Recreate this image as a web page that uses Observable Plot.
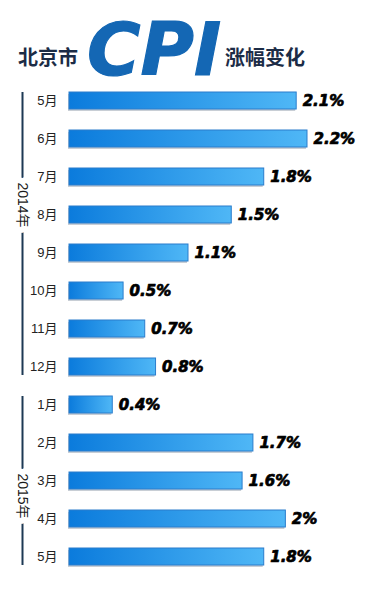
<!DOCTYPE html>
<html>
<head>
<meta charset="utf-8">
<script src="https://cdn.jsdelivr.net/npm/d3@7"></script>
<script src="https://cdn.jsdelivr.net/npm/@observablehq/plot@0.6"></script>
<style>
  html, body { margin: 0; padding: 0; background: #fff; }
  #wrap { width: 372px; }
  #title { position: relative; width: 372px; height: 85px; }
  #title span { position: absolute; line-height: 1; white-space: nowrap; }
  .cn { font-family: "Noto Sans CJK SC", sans-serif; font-weight: 700; font-size: 20px; color: #1c2c46; top: 47px; }
  .cpi { font-family: "DejaVu Sans", sans-serif; font-weight: bold; font-style: italic; font-size: 73px; color: #1467b4; left: 87px; top: 13px; letter-spacing: 0px; -webkit-text-stroke: 1.2px #1467b4; }
  svg { display: block; }
</style>
</head>
<body>
<div id="wrap">
  <div id="title">
    <span class="cn" style="left:18px">北京市</span>
    <span class="cpi">CPI</span>
    <span class="cn" style="left:225px">涨幅变化</span>
  </div>
  <div id="chart"></div>
</div>
<script>
// Data
const keys   = ["2014-5","2014-6","2014-7","2014-8","2014-9","2014-10","2014-11","2014-12","2015-1","2015-2","2015-3","2015-4","2015-5"];
const months = ["5月","6月","7月","8月","9月","10月","11月","12月","1月","2月","3月","4月","5月"];
const values = [2.1, 2.2, 1.8, 1.5, 1.1, 0.5, 0.7, 0.8, 0.4, 1.7, 1.6, 2.0, 1.8];
const yearNames  = ["2014年", "2015年"];
const yearFirst  = ["2014-5", "2015-1"];
const yearLast   = ["2014-12", "2015-5"];

const data = keys.map((k, i) => ({key: k, month: months[i], value: values[i]}));
const years = yearNames.map((n, i) => ({name: n, first: yearFirst[i], last: yearLast[i]}));
const monthOf = new Map(keys.map((k, i) => [k, months[i]]));

const font = "'Liberation Sans', 'Noto Sans CJK SC', sans-serif";

const chart = Plot.plot({
  width: 372,
  height: 508,
  marginLeft: 69,
  marginRight: 65,
  marginTop: 0,
  marginBottom: 0,
  style: {fontFamily: font, background: "transparent"},
  x: {domain: [0, 2.2], axis: null},
  y: {type: "band", domain: keys, range: [6.4, 481.6], paddingInner: 0.55, paddingOuter: 0, label: null},
  marks: [
    // year brackets
    Plot.ruleX(years, {x: 0, y1: "first", y2: "last", dx: -47, stroke: "#1d3954", strokeWidth: 2}),
    Plot.text([years[0]], {x: 0, y: () => "2014-8", text: "name", dx: -47, dy: -10, rotate: 90,
      fontSize: 14, fill: "#1a1a1a", stroke: "white", strokeWidth: 12, fontFamily: font}),
    Plot.text([years[1]], {x: 0, y: () => "2015-3", text: "name", dx: -47, dy: 15, rotate: 90,
      fontSize: 14, fill: "#1a1a1a", stroke: "white", strokeWidth: 12, fontFamily: font}),
    // shadow
    Plot.barX(data, {x: "value", y: "key", fill: "#9aa6b3", fillOpacity: 0.55, dx: -1, dy: 2}),
    // bars
    Plot.barX(data, {x: "value", y: "key", fill: "url(#barGrad)", stroke: "#2a7dcc", strokeWidth: 1}),
    // value labels
    Plot.text(data, {x: "value", y: "key", text: d => d.value + "%", dx: 6, textAnchor: "start",
      fontSize: 15, fontWeight: "bold", fontStyle: "italic", fontFamily: "'DejaVu Sans', sans-serif",
      fill: "#000", stroke: "#000", strokeWidth: 0.7}),
    // month axis
    Plot.axisY({tickSize: 0, tickPadding: 12, tickFormat: k => monthOf.get(k), fontSize: 13, color: "#222", label: null})
  ]
});

// gradient definition for the bars
const svg = d3.select(chart);
const defs = svg.insert("defs", ":first-child");
const g = defs.append("linearGradient").attr("id", "barGrad").attr("x1", "0").attr("x2", "1").attr("y1", "0").attr("y2", "0");
g.append("stop").attr("offset", "0%").attr("stop-color", "#0b7bdc");
g.append("stop").attr("offset", "100%").attr("stop-color", "#4fb7f6");

document.getElementById("chart").appendChild(chart);
</script>
</body>
</html>
